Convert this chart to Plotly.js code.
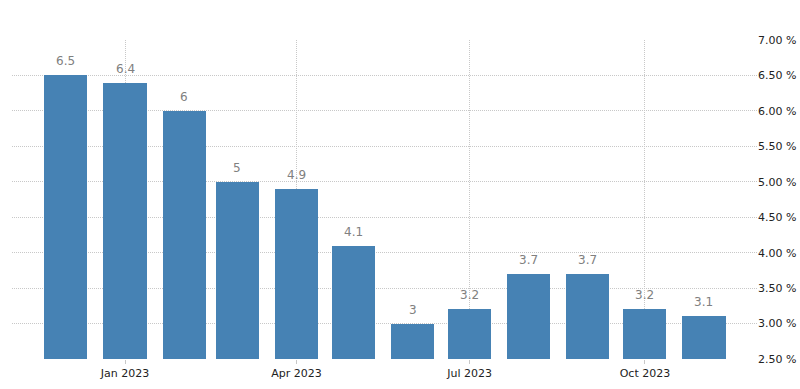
<!DOCTYPE html>
<html>
<head>
<meta charset="utf-8">
<script src="https://cdn.plot.ly/plotly-3.0.1.min.js"></script>
<style>html,body{margin:0;padding:0;background:#fff;}#chart{width:800px;height:389px;}</style>
</head>
<body>
<div id="chart"></div>
<script>
const months = ["2022-12-01","2023-01-01","2023-02-01","2023-03-01","2023-04-01","2023-05-01","2023-06-01","2023-07-01","2023-08-01","2023-09-01","2023-10-01","2023-11-01"];
const values = [6.5, 6.4, 6, 5, 4.9, 4.1, 3, 3.2, 3.7, 3.7, 3.2, 3.1];
const xTickVals = ["2023-01-01","2023-04-01","2023-07-01","2023-10-01"];
const xTickText = ["Jan 2023","Apr 2023","Jul 2023","Oct 2023"];
const yTickVals = [2.5,3,3.5,4,4.5,5,5.5,6,6.5,7];
const yTickText = yTickVals.map(v => v.toFixed(2) + " %");

const DAY = 86400000;
const trace = {
  type: "bar",
  x: months,
  y: values,
  width: months.map(() => 22.6 * DAY),
  marker: {color: "#4682B4"},
  hoverinfo: "x+y"
};
const annotations = months.map((m, i) => ({
  x: m, y: values[i], xref: "x", yref: "y",
  text: String(values[i]), showarrow: false,
  yanchor: "bottom", yshift: 5,
  font: {family: "DejaVu Sans", size: 12, color: "#808080"}
}));
const gridDash = "1px,1px";
const layout = {
  width: 800, height: 389,
  margin: {l: 12, r: 43, t: 40, b: 30},
  paper_bgcolor: "#fff", plot_bgcolor: "#fff",
  showlegend: false,
  bargap: 0,
  annotations: annotations,
  xaxis: {
    type: "date",
    range: ["2022-11-02 16:00", "2023-11-28 20:00"],
    tickvals: xTickVals, ticktext: xTickText,
    showgrid: true, gridcolor: "#c8c8c8", griddash: gridDash, gridwidth: 1,
    ticks: "outside", ticklen: 4, tickcolor: "#c8c8c8",
    tickfont: {family: "DejaVu Sans", size: 11, color: "#222"},
    zeroline: false, showline: false
  },
  yaxis: {
    side: "right",
    range: [2.5, 7],
    tickvals: yTickVals, ticktext: yTickText,
    showgrid: true, gridcolor: "#c8c8c8", griddash: gridDash, gridwidth: 1,
    ticks: "",
    tickfont: {family: "DejaVu Sans", size: 11, color: "#222"},
    zeroline: false, showline: false
  }
};
Plotly.newPlot("chart", [trace], layout, {staticPlot: true, displayModeBar: false});
</script>
</body>
</html>
